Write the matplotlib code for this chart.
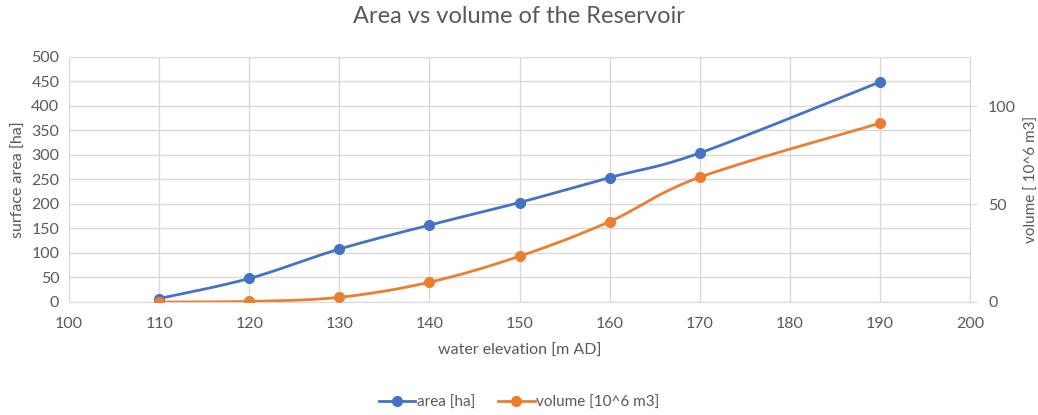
import numpy as np
import matplotlib.pyplot as plt
from matplotlib.lines import Line2D

# data
elevation = [110, 120, 130, 140, 150, 160, 170, 190]
area_ha = [7, 48, 108, 157, 203, 254, 304, 449]
volume_mm3 = [0, 0.3, 2.4, 10.1, 23.4, 41.1, 63.8, 91.4]

blue = '#4472C4'
orange = '#ED7D31'
grey_text = '#595959'
grid_col = '#D9D9D9'

plt.rcParams['font.family'] = ['Lato', 'DejaVu Sans']


def smooth(xs, ys, n=30):
    # excel-like smoothed line: catmull-rom as cubic bezier segments
    p = np.column_stack([xs, ys]).astype(float)
    pts = []
    for i in range(len(p) - 1):
        p0 = p[i - 1] if i > 0 else p[i]
        p1, p2 = p[i], p[i + 1]
        p3 = p[i + 2] if i + 2 < len(p) else p[i + 1]
        c1 = p1 + (p2 - p0) / 6
        c2 = p2 - (p3 - p1) / 6
        t = np.linspace(0, 1, n)[:, None]
        seg = ((1 - t) ** 3) * p1 + 3 * ((1 - t) ** 2) * t * c1 \
            + 3 * (1 - t) * t ** 2 * c2 + t ** 3 * p2
        pts.append(seg if i == 0 else seg[1:])
    pts = np.vstack(pts)
    return pts[:, 0], pts[:, 1]


fig = plt.figure(figsize=(10.38, 4.15), dpi=100)
ax = fig.add_axes([0.0665, 0.2723, 0.868, 0.5904])
ax2 = ax.twinx()

sx, sy = smooth(elevation, area_ha)
ax.plot(sx, sy, color=blue, lw=2, zorder=3)
ax.plot(elevation, area_ha, 'o', color=blue, ms=7, zorder=4)

vx, vy = smooth(elevation, volume_mm3)
ax2.plot(vx, vy, color=orange, lw=2, zorder=3)
ax2.plot(elevation, volume_mm3, 'o', color=orange, ms=7, zorder=4)

ax.set_xlim(100, 200)
ax.set_ylim(0, 500)
ax2.set_ylim(0, 125.3)
ax.set_xticks(range(100, 201, 10))
ax.set_yticks(range(0, 501, 50))
ax2.set_yticks([0, 50, 100])

ax.grid(True, color=grid_col, lw=1)
ax.set_axisbelow(True)
for a in (ax, ax2):
    for s in a.spines.values():
        s.set_visible(False)
ax.spines['bottom'].set_visible(True)
ax.spines['bottom'].set_color(grid_col)
ax2.spines['right'].set_visible(True)
ax2.spines['right'].set_color(grid_col)

ax.tick_params(axis='x', length=0, labelsize=11.5, colors=grey_text, pad=11)
ax.tick_params(axis='y', length=0, labelsize=11.5, colors=grey_text, pad=7)
ax2.tick_params(axis='y', length=5, color=grid_col, labelsize=11.5,
                labelcolor=grey_text, pad=8)

ax.set_xlabel('water elevation [m AD]', fontsize=11.5, color=grey_text, labelpad=9)
ax.set_ylabel('surface area [ha]', fontsize=11.5, color=grey_text, labelpad=4)
ax2.set_ylabel('volume [ 10^6 m3]', fontsize=11, color=grey_text, labelpad=6)
fig.suptitle('Area vs volume of the Reservoir', fontsize=17, color=grey_text, y=0.985)

handles = [
    Line2D([], [], color=blue, lw=2, marker='o', ms=7),
    Line2D([], [], color=orange, lw=2, marker='o', ms=7),
]
fig.legend(handles, ['area [ha]', 'volume [10^6 m3]'], loc='center',
           bbox_to_anchor=(0.5, 0.03), ncol=2, frameon=False, fontsize=11,
           labelcolor=grey_text, handlelength=2.4, handletextpad=0.1,
           columnspacing=1.5)

fig.savefig('out.png', dpi=100)
